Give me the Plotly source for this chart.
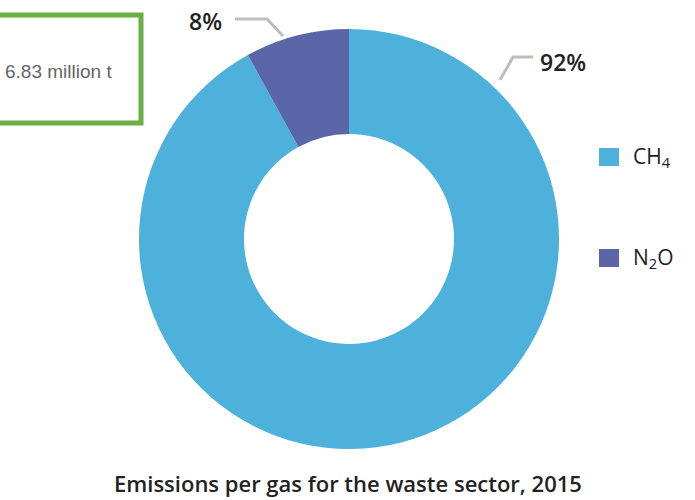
import plotly.graph_objects as go

# Emission shares per gas, waste sector 2015
gases = ["CH4", "N2O"]
gas_labels = ["CH<sub>4</sub>", "N<sub>2</sub>O"]
shares = [92, 8]
colors = ["#4DB1DB", "#5B66A8"]
total_text = "6.83 million t"
title_text = "Emissions per gas for the waste sector, 2015"

W, H = 695, 500

def px(x):
    return x / W

def py(y):
    return 1 - y / H

cx, cy, r = 349, 239, 210

fig = go.Figure(go.Pie(
    labels=gases,
    values=shares,
    marker=dict(colors=colors, line=dict(width=0)),
    hole=0.5,
    sort=False,
    direction="clockwise",
    rotation=0,
    textinfo="none",
    hoverinfo="label+percent",
    showlegend=False,
    domain=dict(x=[px(cx - r), px(cx + r)], y=[py(cy + r), py(cy - r)]),
))

total = sum(shares)
pct = [f"{round(v * 100 / total)}%" for v in shares]

annotations = []
shapes = []

# percentage callouts with leader lines
label_pos = {"CH4": (563, 62), "N2O": (205, 21)}
leader_paths = {
    "CH4": "M 533 57 L 513 57 L 500 80",
    "N2O": "M 235 19 L 267 19 L 283 36",
}
for g, p in zip(gases, pct):
    x, y = label_pos[g]
    annotations.append(dict(
        x=px(x), y=py(y), xref="paper", yref="paper", text=p, showarrow=False,
        font=dict(family="Open Sans", size=23, color="#222222", weight=600),
        xanchor="center", yanchor="middle",
    ))
    path = leader_paths[g]
    pts = [tuple(map(float, s.strip().split())) for s in path.replace("M", "").split("L")]
    d = "M " + " L ".join(f"{px(a)} {py(b)}" for a, b in pts)
    shapes.append(dict(type="path", path=d, xref="paper", yref="paper",
                       line=dict(color="#BDBDBD", width=3)))

# legend drawn as coloured squares with labels
legend_y = [157, 258]
for lab, col, ly in zip(gas_labels, colors, legend_y):
    shapes.append(dict(type="rect", xref="paper", yref="paper",
                       x0=px(599), x1=px(619), y0=py(ly + 9), y1=py(ly - 9),
                       fillcolor=col, line=dict(width=0)))
    annotations.append(dict(
        x=px(631), y=py(ly), xref="paper", yref="paper", text=lab, showarrow=False,
        font=dict(family="Open Sans", size=21, color="#222222"),
        xanchor="left", yanchor="middle",
    ))

# total box
shapes.append(dict(type="rect", xref="paper", yref="paper",
                   x0=px(-10), x1=px(141), y0=py(123), y1=py(15),
                   line=dict(color="#6BAF45", width=5), fillcolor="rgba(0,0,0,0)"))
annotations.append(dict(
    x=px(114), y=py(71), xref="paper", yref="paper", text=total_text, showarrow=False,
    font=dict(family="Liberation Sans", size=19, color="#666666"),
    xanchor="right", yanchor="middle",
))

# title
annotations.append(dict(
    x=px(348), y=py(483), xref="paper", yref="paper", text=title_text, showarrow=False,
    font=dict(family="Open Sans", size=22, color="#222222", weight=600),
    xanchor="center", yanchor="middle",
))

fig.update_layout(
    width=W, height=H,
    margin=dict(l=0, r=0, t=0, b=0),
    paper_bgcolor="white", plot_bgcolor="white",
    annotations=annotations, shapes=shapes,
)

fig.write_html("out.html")
